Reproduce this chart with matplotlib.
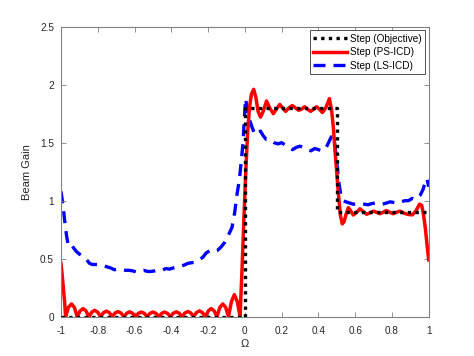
import numpy as np
import matplotlib
matplotlib.use('Agg')
import matplotlib.pyplot as plt

# objective step pattern
obj_x = [-1, 0, 0, 0.5, 0.5, 1]
obj_y = [0, 0, 1.8, 1.8, 0.9, 0.9]

# PS-ICD beam gain
ps_x = [-1.0, -0.99, -0.98, -0.975,
        -0.96, -0.943, -0.927, -0.912,
        -0.896, -0.88, -0.864, -0.848,
        -0.832, -0.817, -0.801, -0.785,
        -0.769, -0.753, -0.737, -0.722,
        -0.706, -0.69, -0.674, -0.658,
        -0.642, -0.627, -0.611, -0.595,
        -0.579, -0.563, -0.547, -0.532,
        -0.516, -0.5, -0.484, -0.468,
        -0.452, -0.437, -0.421, -0.405,
        -0.389, -0.373, -0.357, -0.342,
        -0.326, -0.31, -0.294, -0.279,
        -0.263, -0.247, -0.231, -0.215,
        -0.199, -0.183, -0.167, -0.152,
        -0.136, -0.12, -0.104, -0.089,
        -0.073, -0.057, -0.041, -0.026,
        -0.015, -0.005, 0.005, 0.015, 0.025, 0.036, 0.048, 0.06, 0.072,
        0.085, 0.1, 0.118, 0.135, 0.155, 0.172, 0.19, 0.205, 0.222, 0.24,
        0.258, 0.275, 0.292, 0.31, 0.325, 0.34, 0.358, 0.375, 0.39, 0.405,
        0.422, 0.44, 0.46, 0.472, 0.482, 0.49, 0.5, 0.51, 0.52, 0.53,
        0.54, 0.55, 0.563, 0.577, 0.59, 0.608, 0.626, 0.645, 0.663, 0.68,
        0.699, 0.717, 0.735, 0.752, 0.77, 0.788, 0.807, 0.825, 0.844,
        0.862, 0.88, 0.895, 0.911, 0.93, 0.95, 0.962, 0.972, 0.982, 0.991,
        1.0]
ps_y = [0.46, 0.30, 0.12, 0.0,
        0.08, 0.11, 0.08, 0.0,
        0.05, 0.07, 0.05, 0.0,
        0.04, 0.055, 0.04, 0.0,
        0.035, 0.048, 0.035, 0.0,
        0.032, 0.044, 0.032, 0.0,
        0.03, 0.042, 0.03, 0.0,
        0.029, 0.04, 0.029, 0.0,
        0.029, 0.04, 0.029, 0.0,
        0.029, 0.04, 0.029, 0.0,
        0.03, 0.042, 0.03, 0.0,
        0.032, 0.045, 0.032, 0.0,
        0.036, 0.05, 0.036, 0.0,
        0.05, 0.07, 0.05, 0.0,
        0.08, 0.11, 0.08, 0.0,
        0.13, 0.19, 0.13, 0.0,
        0.42, 0.85, 1.25, 1.58, 1.8, 1.92, 1.96, 1.89, 1.77,
        1.72, 1.77, 1.86, 1.8, 1.75, 1.79, 1.83, 1.8, 1.77, 1.8,
        1.82, 1.8, 1.78, 1.79, 1.81, 1.79, 1.77, 1.79, 1.81, 1.79,
        1.76, 1.8, 1.88, 1.78, 1.62, 1.44, 1.24, 1.04, 0.87, 0.8,
        0.82, 0.88, 0.94, 0.91, 0.877, 0.9, 0.93, 0.905, 0.883, 0.895,
        0.91, 0.9, 0.888, 0.9, 0.915, 0.9, 0.888, 0.9, 0.91,
        0.895, 0.885, 0.88, 0.878, 0.91, 0.97, 0.96, 0.88, 0.76, 0.62,
        0.49]

# LS-ICD beam gain
ls_x = [-1.0, -0.99, -0.98, -0.97, -0.96, -0.95, -0.94, -0.93, -0.915,
        -0.9, -0.88, -0.86, -0.845, -0.83, -0.81, -0.79, -0.77, -0.75,
        -0.73, -0.71, -0.69, -0.67, -0.65, -0.63, -0.61, -0.59, -0.57,
        -0.55, -0.53, -0.51, -0.49, -0.47, -0.45, -0.43, -0.41, -0.39,
        -0.37, -0.35, -0.33, -0.31, -0.29, -0.27, -0.25, -0.23, -0.21,
        -0.19, -0.17, -0.15, -0.13, -0.11, -0.09, -0.07, -0.055, -0.044,
        -0.03, -0.02, -0.01, -0.003, 0.004, 0.012, 0.025, 0.04, 0.055,
        0.07, 0.085, 0.1, 0.115, 0.13, 0.145, 0.16, 0.18, 0.2, 0.22, 0.24,
        0.26, 0.28, 0.3, 0.32, 0.34, 0.36, 0.38, 0.4, 0.42, 0.44, 0.455,
        0.47, 0.482, 0.492, 0.502, 0.512, 0.522, 0.535, 0.55, 0.57, 0.59,
        0.61, 0.63, 0.65, 0.67, 0.69, 0.71, 0.73, 0.75, 0.77, 0.79, 0.81,
        0.83, 0.85, 0.87, 0.89, 0.91, 0.925, 0.94, 0.955, 0.97, 0.982,
        0.991, 1.0]
ls_y = [1.08, 0.97, 0.83, 0.7, 0.61, 0.6, 0.61, 0.59, 0.56,
        0.54, 0.52, 0.49, 0.46, 0.45, 0.45, 0.45, 0.44, 0.43,
        0.42, 0.405, 0.41, 0.405, 0.40, 0.40, 0.395, 0.385, 0.395,
        0.40, 0.39, 0.39, 0.395, 0.405, 0.40, 0.415, 0.41, 0.42,
        0.43, 0.435, 0.445, 0.46, 0.465, 0.47, 0.49, 0.51, 0.55,
        0.57, 0.56, 0.57, 0.6, 0.64, 0.7, 0.77, 0.9, 1.04,
        1.18, 1.33, 1.5, 1.7, 1.88, 1.8, 1.7, 1.63, 1.57,
        1.58, 1.6, 1.56, 1.53, 1.53, 1.52, 1.5, 1.49, 1.5, 1.48, 1.46,
        1.44, 1.46, 1.47, 1.46, 1.44, 1.43, 1.45, 1.44, 1.43, 1.45, 1.5,
        1.55, 1.56, 1.45, 1.3, 1.15, 1.05, 1.0, 0.99, 0.98, 0.97,
        0.97, 0.975, 0.97, 0.965, 0.975, 0.98, 0.975, 0.97, 0.98, 0.99,
        0.985, 0.98, 0.99, 1.0, 1.0, 1.02, 1.01, 1.03, 1.05, 1.1, 1.17,
        1.19, 1.12]

xticks = [-1, -0.8, -0.6, -0.4, -0.2, 0, 0.2, 0.4, 0.6, 0.8, 1]
xtick_labels = ['-1', '-0.8', '-0.6', '-0.4', '-0.2', '0', '0.2', '0.4',
                '0.6', '0.8', '1']
yticks = [0, 0.5, 1, 1.5, 2, 2.5]
ytick_labels = ['0', '0.5', '1', '1.5', '2', '2.5']

plt.rcParams['font.family'] = ['Liberation Sans', 'DejaVu Sans']

fig = plt.figure(figsize=(4.74, 3.56), dpi=100)
ax = fig.add_axes([0.1287, 0.1104, 0.7757, 0.8146])

ax.plot(obj_x, obj_y, color='black', linestyle=(0, (1, 1.3)), lw=2.4,
        label='Step (Objective)', zorder=3)
ax.plot(ps_x, ps_y, color='red', lw=2.5, label='Step (PS-ICD)', zorder=2)
ax.plot(ls_x, ls_y, color='blue', linestyle=(0, (3.6, 2.4)), lw=2.4,
        label='Step (LS-ICD)', zorder=1)

ax.set_xlim(-1, 1)
ax.set_ylim(0, 2.5)
ax.set_xticks(xticks)
ax.set_xticklabels(xtick_labels)
ax.set_yticks(yticks)
ax.set_yticklabels(ytick_labels)
ax.tick_params(direction='in', length=3.5, width=0.6, top=True, right=True,
               labelsize=7.2, colors='#262626', pad=5)
ax.tick_params(axis='x', pad=7)
ax.tick_params(color='#808080')
for s in ax.spines.values():
    s.set_color('#808080')
    s.set_linewidth(0.8)

ax.set_xlabel('Ω', fontsize=8, color='#262626', labelpad=2)
ax.set_ylabel('Beam Gain', fontsize=8, color='#262626', labelpad=6)

leg = ax.legend(loc='upper right', fontsize=7.2, fancybox=False,
                framealpha=1, edgecolor='#333333', handlelength=3.4,
                handletextpad=0.3, labelspacing=0.35, borderpad=0.35,
                borderaxespad=0.35)
leg.get_frame().set_linewidth(0.6)

fig.savefig('out.png', dpi=100)
